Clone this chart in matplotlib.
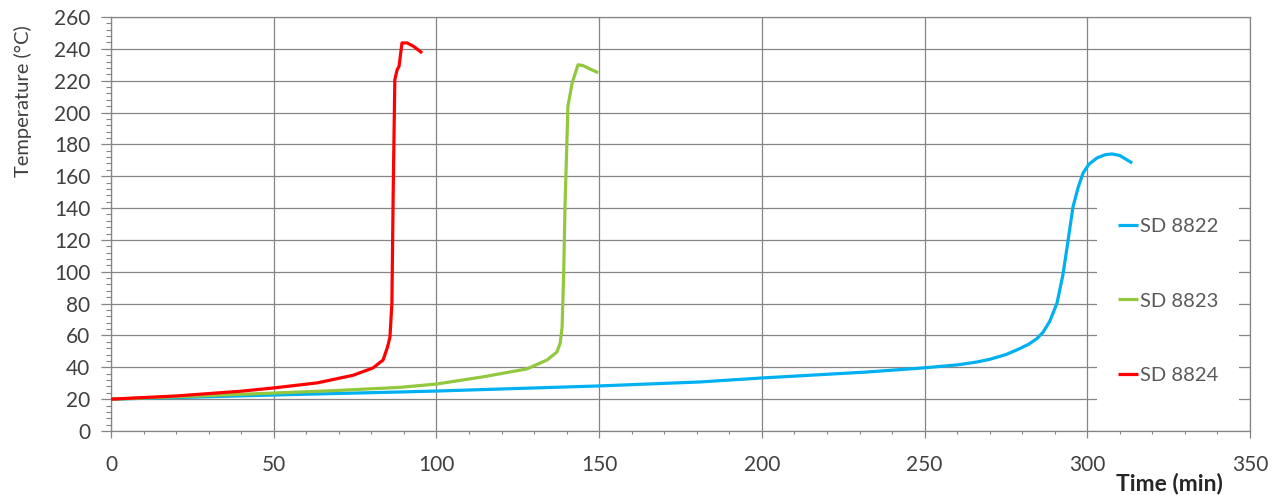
import matplotlib
matplotlib.use("Agg")
import matplotlib.pyplot as plt
from matplotlib.ticker import MultipleLocator
from matplotlib.patches import Rectangle

plt.rcParams['font.family'] = ['Lato', 'DejaVu Sans']

# SD 8822 (blue)
t_8822 = [0, 20, 50, 88.8, 100, 150, 181, 200, 232, 249.5, 260, 266, 270, 275, 279, 282, 284.5, 286.4,
          288.5, 290.7, 292.5, 293.8, 295.6, 297.2, 298.7, 300.5, 303, 305.5, 307.6, 310, 312, 313.8]
T_8822 = [20, 21, 22.6, 24.5, 25.1, 28.3, 30.8, 33.3, 37, 39.6, 41.5, 43.3, 45, 48, 51.5, 54.5, 58, 62,
          69, 80.4, 98, 115.6, 140.7, 153, 162, 167.5, 171.5, 173.5, 174, 173, 170.5, 168.3]

# SD 8823 (green)
t_8823 = [0, 20, 49.8, 70, 88.8, 100, 114.3, 127.8, 134, 137, 138, 138.6, 139.1, 139.5, 140.4,
          141.7, 143.5, 145, 147, 149.7]
T_8823 = [20, 21.5, 23.8, 25.5, 27.4, 29.5, 34, 39, 44.6, 49.6, 55, 65, 100, 141, 204,
          218.6, 230, 229.5, 227.5, 225]

# SD 8824 (red)
t_8824 = [0, 20, 40, 49.8, 63.3, 74.4, 80.5, 83.6, 85, 85.7, 86.3, 86.7, 87.2, 87.9, 88.5,
          89.4, 91, 93, 95.6]
T_8824 = [20, 22, 25, 27, 30.2, 35, 39.6, 44.6, 53, 59, 80, 150, 220.5, 226.8, 229,
          243.7, 243.7, 241.5, 237.4]

series_labels = ['SD 8822', 'SD 8823', 'SD 8824']
series_colors = ['#00B0F0', '#92C83E', '#FF0000']

fig = plt.figure(figsize=(12.81, 4.95), dpi=100)
ax = fig.add_axes([0.0867, 0.1293, 0.8891, 0.8364])

lines = []
for t, T, lab, col in zip([t_8822, t_8823, t_8824], [T_8822, T_8823, T_8824],
                          series_labels, series_colors):
    ln, = ax.plot(t, T, color=col, lw=2.3, label=lab, zorder=3, solid_capstyle='butt',
                  solid_joinstyle='round')
    lines.append(ln)

ax.set_xlim(0, 350)
ax.set_ylim(0, 260)
ax.xaxis.set_major_locator(MultipleLocator(50))
ax.xaxis.set_minor_locator(MultipleLocator(10))
ax.yaxis.set_major_locator(MultipleLocator(20))
ax.yaxis.set_minor_locator(MultipleLocator(4))

grid_col = '#858585'
ax.grid(True, which='major', color=grid_col, lw=0.9, zorder=0)
ax.set_axisbelow(True)
for s in ax.spines.values():
    s.set_color(grid_col)
    s.set_linewidth(0.9)

ax.tick_params(axis='y', which='major', direction='out', length=7, width=0.9,
               color=grid_col, labelsize=15, labelcolor='#404040', pad=8)
ax.tick_params(axis='y', which='minor', direction='out', length=3.5, width=0.8, color=grid_col)
ax.tick_params(axis='x', which='major', direction='out', length=5, width=0.9,
               color=grid_col, labelsize=15, labelcolor='#404040', pad=12)
ax.tick_params(axis='x', which='minor', direction='out', length=2.5, width=0.8, color=grid_col)

# white legend area covering the gridlines
ax.add_patch(Rectangle((0.866, 0.039), 0.124, 0.55, transform=ax.transAxes,
                       facecolor='white', edgecolor='none', zorder=1))

leg = ax.legend(handles=lines, loc='center', bbox_to_anchor=(0.928, 0.314),
                frameon=False, fontsize=14.5, handlelength=1.0, handletextpad=0.1,
                labelspacing=2.85, borderaxespad=0)
for txt in leg.get_texts():
    txt.set_color('#595959')
for h in leg.legend_handles:
    h.set_linewidth(2.3)

fig.text(0.018, 0.795, 'Temperature (°C)', rotation=90, ha='center', va='center',
         fontsize=14.5, color='#404040')
fig.text(0.913, 0.024, 'Time (min)', ha='center', va='center',
         fontsize=16.5, fontweight='bold', color='#262626')

fig.savefig('out.png', dpi=100)
